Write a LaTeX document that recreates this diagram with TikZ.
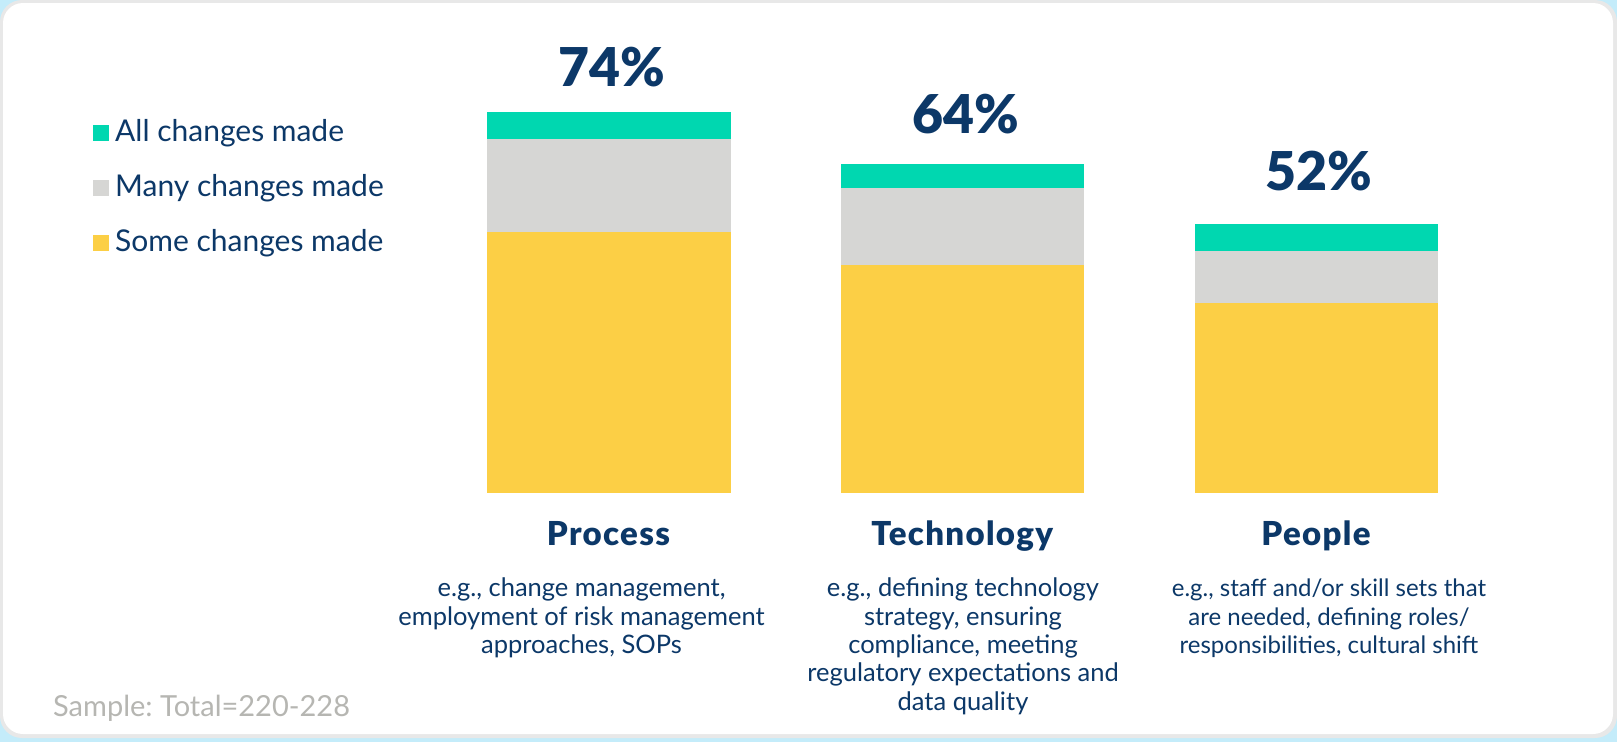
\documentclass[tikz,border=0pt]{standalone}
\usepackage{fontspec}
\setmainfont{Lato}
\newfontfamily\heavyfont{Lato Black}
\newfontfamily\catfont{Lato Black}[LetterSpace=4]
\frenchspacing
\definecolor{navy}{RGB}{12,56,104}
\definecolor{allclr}{RGB}{0,215,176}
\definecolor{manyclr}{RGB}{214,214,212}
\definecolor{someclr}{RGB}{252,207,69}
\definecolor{skyclr}{RGB}{196,236,250}
\definecolor{edgeclr}{RGB}{232,232,232}
\definecolor{noteclr}{RGB}{182,182,178}
\newcommand{\desclines}[2][25.5]{\fontsize{#1}{28.4}\selectfont\setlength{\tabcolsep}{0pt}\begin{tabular}[t]{c}#2\end{tabular}}

\begin{document}
\begin{tikzpicture}[x=1pt,y=-1pt]
        \tikzstyle{every node}=[inner sep=0pt, text=navy]
        \tikzstyle{pct}=[anchor=base, font=\heavyfont\fontsize{53.5}{60}\selectfont]
        \tikzstyle{cat}=[anchor=base, font=\catfont\fontsize{33}{38}\selectfont]
        \tikzstyle{desc}=[anchor=base]
        \tikzstyle{legend}=[anchor=base west, font=\fontsize{30}{36}\selectfont]
        \tikzstyle{swatch}=[minimum size=16pt]
        \useasboundingbox (0,0) rectangle (1617,742);
        % card
        \fill[skyclr] (0,0) rectangle (1617,742);
        \fill[edgeclr, rounded corners=22] (0,0) rectangle (1617,738);
        \fill[white, rounded corners=20] (3,3) rectangle (1613,734);
        % stacked bars: left / top / many / some
        \foreach \xl/\ya/\yb/\yc in {487/111.7/139/231.5, 840.5/164.3/188.3/265, 1194.5/224.3/250.7/303} {
            \fill[allclr] (\xl,\ya) rectangle ++(243.5,\yb-\ya);
            \fill[manyclr] (\xl,\yb) rectangle ++(243.5,\yc-\yb);
            \fill[someclr] (\xl,\yc) rectangle (\xl+243.5,493.3);
        }
        % legend
        \node[swatch, fill=allclr] (swall) at (101,133) {};
        \node[swatch, fill=manyclr] (swmany) at (101,188) {};
        \node[swatch, fill=someclr] (swsome) at (101,243) {};
        \node[legend] (lgall) at (115,141.7) {All changes made};
        \node[legend] (lgmany) at (115,196.7) {Many changes made};
        \node[legend] (lgsome) at (115,251.7) {Some changes made};
        % totals
        \node[pct] (pctproc) at (612,86.7) {74\%};
        \node[pct] (pcttech) at (966,133.3) {64\%};
        \node[pct] (pctpeop) at (1319,190) {52\%};
        % categories
        \node[cat] (catproc) at (608.5,545) {Process};
        \node[cat] (cattech) at (962.2,545) {Technology};
        \node[cat] (catpeop) at (1316,545) {People};
        \node[desc] (dscproc) at (581.5,596.7) {\desclines{e.g., change management,\\employment of risk management\\approaches, SOPs}};
        \node[desc] (dsctech) at (963,596.7) {\desclines{e.g., defining technology\\strategy, ensuring\\compliance, meeting\\regulatory expectations and\\data quality}};
        \node[desc] (dscpeop) at (1329,596.7) {\desclines[24]{e.g., staff and/or skill sets that\\are needed, defining roles/\\responsibilities, cultural shift}};
        \node[anchor=base west, text=noteclr, font=\fontsize{29}{34}\selectfont] (sample) at (53,716) {Sample: Total=220-228};
    \end{tikzpicture}
\end{document}
